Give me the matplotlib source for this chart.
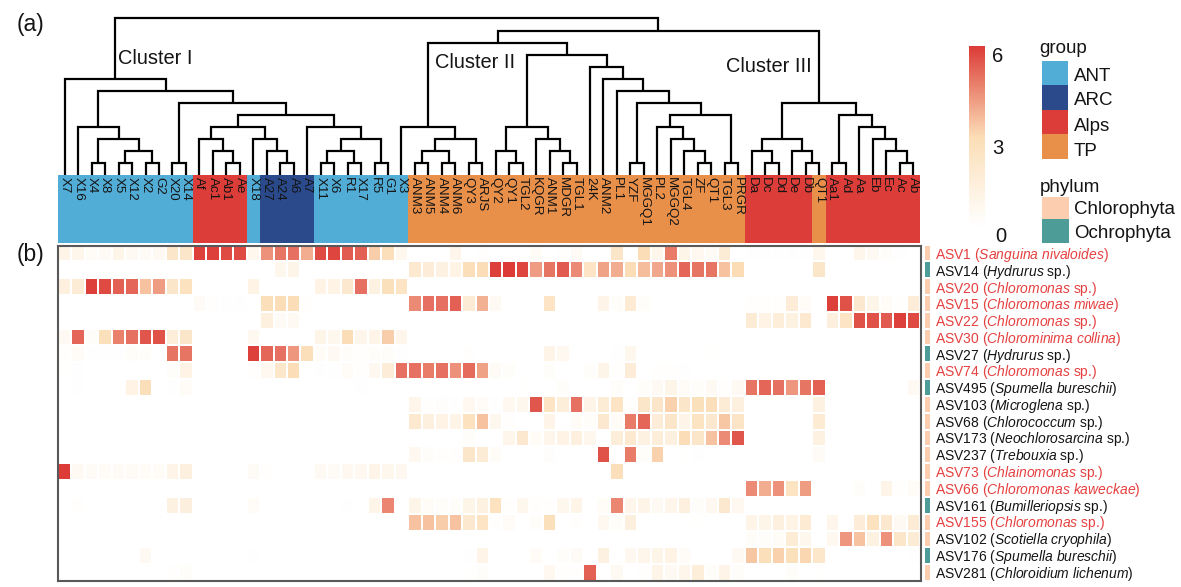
"""Heatmap of ASV abundance with sample dendrogram, group strip and phylum strip"""
import matplotlib
matplotlib.use('Agg')
import matplotlib.pyplot as plt
import numpy as np
from matplotlib.cm import ScalarMappable
from matplotlib.colors import LinearSegmentedColormap, ListedColormap, Normalize
from matplotlib.patches import Rectangle

plt.rcParams['font.family'] = ['Liberation Sans', 'DejaVu Sans']
plt.rcParams['mathtext.fontset'] = 'custom'
plt.rcParams['mathtext.rm'] = 'Liberation Sans'
plt.rcParams['mathtext.it'] = 'Liberation Sans:italic'

W, H = 1181, 587

samples = ['X7', 'X16', 'X4', 'X8', 'X5', 'X12', 'X2', 'G2', 'X20', 'X14', 'Af', 'Ac1', 'Ab1', 'Ae', 'X18', 'A27',
           'A24', 'A6', 'A7', 'X11', 'X6', 'R1', 'X17', 'R5', 'G1', 'X3', 'ANM3', 'ANM5', 'ANM4', 'ANM6', 'QY3', 'ARJS',
           'QY2', 'QY1', 'TGL2', 'KQGR', 'ANM1', 'MDGR', 'TGL1', '24K', 'ANM2', 'PL1', 'YZF', 'MGGQ1', 'PL2', 'MGGQ2',
           'TGL4', 'ZF', 'QT1', 'TGL3', 'PRGR', 'Da', 'Dc', 'Dd', 'De', 'Db', 'QT1', 'Aa1', 'Ad', 'Aa', 'Eb', 'Ec',
           'Ac', 'Ab']

group_names = ['ANT', 'ARC', 'Alps', 'TP']
group_colors = ['#52ADD6', '#2B4A8C', '#DC3D38', '#E88F4A']
group_runs = [('ANT', 10), ('Alps', 4), ('ANT', 1), ('ARC', 4), ('ANT', 7), ('TP', 25), ('Alps', 5), ('TP', 1),
              ('Alps', 7)]

phylum_names = ['Chlorophyta', 'Ochrophyta']
phylum_colors = ['#FDCDB0', '#4E9C98']

asv_ids = ['ASV1', 'ASV14', 'ASV20', 'ASV15', 'ASV22', 'ASV30', 'ASV27', 'ASV74', 'ASV495', 'ASV103', 'ASV68',
           'ASV173', 'ASV237', 'ASV73', 'ASV66', 'ASV161', 'ASV155', 'ASV102', 'ASV176', 'ASV281']
asv_genus = ['Sanguina nivaloides', 'Hydrurus', 'Chloromonas', 'Chloromonas miwae', 'Chloromonas', 'Chlorominima collina',
             'Hydrurus', 'Chloromonas', 'Spumella bureschii', 'Microglena', 'Chlorococcum', 'Neochlorosarcina',
             'Trebouxia', 'Chlainomonas', 'Chloromonas kaweckae', 'Bumilleriopsis', 'Chloromonas', 'Scotiella cryophila',
             'Spumella bureschii', 'Chloroidium lichenum']
asv_sp = [0, 1, 1, 0, 1, 0, 1, 1, 0, 1, 1, 1, 1, 1, 0, 1, 1, 0, 0, 0]
asv_red = [1, 0, 1, 1, 1, 1, 0, 1, 0, 0, 0, 0, 0, 1, 1, 0, 1, 0, 0, 0]
asv_phylum = [0, 1, 0, 0, 0, 0, 1, 0, 1, 0, 0, 0, 0, 0, 0, 1, 0, 0, 1, 0]

Z = [0] * 10
abundance = [
    [1, .8, .3, .4, .9, .5, .4, .5, 2.2, 2.2, 5.9, 5.9, 5.7, 5.7, .7, 4.4, 4.9, 5, 3.9, 5.7,
     5.8, 5.4, 5.3, 3.3, 2.8, .7, 0, 0, 0, .8, 0, .1, 0, 0, 0, .3, 0, .1, .4, 0,
     0, 2.2, 0, 2.9, .8, 4.8, .9, .6, .4, 1.7, 0, .05, .05, .05, .05, .05, .7, 0, 0, .8, .5, .2, .05, .02],
    Z + [0, 0, 0, 0, 0, 0, .7, .9, 0, 0, 0, 0, 0, 0, 0, 0, 1.9, 1.6, 1.2, 1.1,
         2.8, 2.9, 5.9, 6, 5.8, 4.2, 4.9, 5.4, 4.5, 2.4, 4.1, 3.9, 2.9, 3.6, 4, 4.4, 5.2, 4.9, 4.9, 3.5,
         3, 0, 0, 0, 0, 0, 2.2, 0, 0, 0, 0, 0, 0, 0],
    [1.3, 1.7, 5.9, 5.7, 5.3, 5.2, 3.5, 4.2, 2.2, 2.6, 0, 0, 0, 0, 1.1, 0, 0, 0, 0, 1.1,
     1.1, 2, 5, 1.2, 2.7, 2.4, 0, 0, 0, 0] + Z * 3 + [0, 0, 0, 0],
    Z + [.4, .1, .05, .05, 0, 2.8, 2.9, 2.9, .1, 0, 0, 0, 0, 0, 0, 0, 4.5, 5, 5, 5.3,
         1.7, 3.8, .5, 0, 0, 0, 2.4, 0, 0, 0, 1, .2, 1.8, .2, 0, 0, 0, 0, 0, 0,
         0, .1, .1, .1, 1.6, .3, 0, 5.9, 5.6, 2, .9, .3, .1, 1.6],
    Z + [0, 0, 0, 0, 0, 1.3, .4, .5, 0, 0] + Z * 3 +
    [0, 1.7, 1.1, 1.5, 1.2, 1.9, 0, 1.4, 2.4, 5.6, 5.6, 5.4, 5.9, 5.7],
    [.5, 5.2, .2, 2.7, 4.7, 5, 5.5, 5.6, 1.5, 2.2, 0, 0, 0, 0, .6, 0, 0, 0, 0, .9,
     .7, 2.9, .8, 1, 3.3, .8, 0, 0, 0, 0] + Z * 3 + [0, 0, 0, 0],
    [.1, .3, .05, .05, .05, .2, .2, 0, 4.9, 4.9, 0, 0, 0, 0, 5.9, 5.2, 5, 4.3, 2.8, .3,
     .5, .2, .1, .2, .2, .05, 0, 0, 0, 0, .1, 0, 0, 0, 0, 0, 1, .6, 0, 0,
     0, .05, .7, 0, 0, 0, 0, 0, .03, 0] + Z + [0, 0, 0, 0],
    [.03, .05, 0, 0, 0, 0, 0, 0, .2, 1.1, 0, 0, 0, 0, .1, .6, 2.1, 2.9, 0, .05,
     .05, .3, .1, .6, 1.6, 5, 5, 4.8, 5, 4.4, 5.1, 4.1, .4, .2, 0, 0, .2, 0, 0, .2,
     .9, .1, 1.6, 0, .1, .1, .05, 0, 0, 0] + Z + [0, 0, 0, 0],
    [0, .05, 0, 0, 0, 1.1, 2.8, 0, .05, .3] + Z + [0, 0, .05, 0, 0, 0, 0, 0, 0, 0,
     0, 0, 0, 0, .03, 0, 0, .2, 0, 0, 0, .2, 0, .2, .5, .9, .3, .2, .5, .1,
     .5, 4.9, 5.2, 5, 4.3, 4.9, 5.3, 0, 0, 0, 0, 0, 0, .5],
    Z * 2 + [0, 0, 0, 0, 0, 0, .8, .1, .15, .05, .6, .3, .05, .6, .7, 5.5, 2.4, 1.5, 5, 1,
             1.7, 2.4, .1, 2.2, 2.2, 3.2, 2.2, 2.7, 2.8, 1.7, 1.3, 0, 0, 0, 0, 0, 1.2, 0, 0, 0, 0, 0, 0, 0],
    Z * 2 + [0, 0, 0, 0, 0, 0, 1.9, 1.3, 1.1, 1, 2.6, 3.5, .7, .1, 0, 0, 1, 0, .3, .2,
             2, .3, 4.8, 5.2, 1.6, 2.2, 1, 2.5, 2, 3.4, 2.3, 0, 0, 0, 0, 0, 1.8, 0, 0, 0, 0, 0, 0, 0],
    Z * 3 + [.2, 0, 0, .8, 2, .3, .8, 1.1, 1.3, .7, 0, 1.5, 1.9, 1.2, 1.5, 1.3, 2.9, 2.2, 3.5, 4.5,
             5.5, 0, 0, 0, 0, 0, 1.2, 0, 0, 0, 0, 0, 0, 0],
    Z * 2 + [0, 0, 0, 0, 0, 0, .6, .2, .1, .1, 2.2, 1.7, .3, 0, 0, 0, .15, 0, 0, 0,
             5.6, 0, 4.8, .2, 3.2, 0, .03, .05, .02, .02, .01, 0, 0, 0, 0, 0, .4, 0, 0, 0, 0, 0, 0, 0],
    [6, .5, .4, .3, .4, .4, .3, .3, 1, 1.3, 0, 0, 0, 0, .4, .1, 0, 0, .02, .5,
     .4, .6, .6, 1, .7, .6, 0, 0, 0, 0] + Z + [0, 2.8, 0, 0, 0, 0, 0, 0, 0, 0] + Z + [0, 0, 0, 0],
    Z * 5 + [0, 4.5, 3.9, 4.4, 2.5, 4.2, 0, 0, 0, .2, 0, 1, .1, .3],
    [0, .1, 0, 0, 0, 0, 0, 0, 1.2, 1.4, 0, 0, 0, 0, .3, 0, 0, 0, 0, 0,
     0, .05, 0, .9, 4.6, 0, .9, .3, .2, .2, .9, 1.2, 2.6, .1, .7, .1, .1, .7, 1, 0,
     .3, 4.6, .8, 1, .5, .8, 1.3, .2, .6, 2, .6, 0, 0, 0, 0, 0, 0, 0, 0, 0, 0, 0, 0, 0],
    Z * 2 + [0, 0, 0, 0, 0, 0, 3.5, 3.5, 3.3, 3.5, 2, 2.4, .1, .3, 0, .2, 2.7, 0, .1, 0,
             .6, .2, 1.4, 0, 0, 0, 0, .03, 0, 0, 0, 1, .9, 1.3, 1.1, 1.8, 0, .8, 0, 1.6, 2.6, 2, .5, 1.7],
    Z * 5 + [0, .2, .2, .3, 1.7, .7, 0, .6, 4.3, 3.5, 1.2, 4.4, 2.2, 1.7],
    [0, 0, 0, 0, 0, 0, .5, 0, 0, 0, 0, 0, 0, 0, .05, 0, 0, 0, 0, 0] + Z +
    [.05, 1, 0, 0, 0, .3, 0, .2, .4, 0, 1.2, 0, .6, .8, .9, 1.1, .3, 0, 0, .02,
     .5, 3.4, 2.8, 3.2, 2.7, 3.1, 2.1, 0, 0, 0, 0, 0, 0, .05],
    [0, 0, 0, 0, 0, 0, 0, 0, .1, .2] + Z * 2 + [.03, .2, 0, 0, 0, 0, .6, .1, .1, 5.3,
     0, .5, 0, .1, 1, .5, .8, 1.5, .2, 1, .2, 0, 0, 0, .2, 0, .03, 0, 0, 0, 0, 0, 0, 0],
]

# dendrogram as (merge level, left, right)
p = lambda a, b: (1, a, b)
cluster1 = (8, 'X7', (7,
    (4, 'X16', (3, p('X4', 'X8'), (2, p('X5', 'X12'), p('X2', 'G2')))),
    (6, p('X20', 'X14'), (5,
        (4, (3, 'Af', (2, 'Ac1', p('Ab1', 'Ae'))), (3, 'X18', (2, 'A27', p('A24', 'A6')))),
        (4, 'A7', (3, (2, p('X11', 'X6'), p('R1', 'X17')), p('R5', 'G1')))))))
cluster2 = (11,
    (4, 'X3', (3, (2, p('ANM3', 'ANM5'), p('ANM4', 'ANM6')), p('QY3', 'ARJS'))),
    (10,
     (4, (2, 'QY2', p('QY1', 'TGL2')), (3, 'KQGR', (2, 'ANM1', p('MDGR', 'TGL1')))),
     (9, '24K', (8, 'ANM2', (7, 'PL1', (6, p('YZF', 'MGGQ1'),
         (5, (4, 'PL2', (3, 'MGGQ2', (2, 'TGL4', p('ZF', 'QT1')))), p('TGL3', 'PRGR'))))))))
cluster3 = (6,
    (3, (2, 'Da', p('Dc', 'Dd')), (2, 'De', p('Db', 'QT1'))),
    (5, p('Aa1', 'Ad'), (4, 'Aa', (3, 'Eb', (2, 'Ec', p('Ac', 'Ab'))))))
tree = (13.08, cluster1, (12, cluster2, cluster3))


def px_axes(x0, y0, x1, y1):
    return fig.add_axes([x0 / W, 1 - y1 / H, (x1 - x0) / W, (y1 - y0) / H])


fig = plt.figure(figsize=(W / 100, H / 100), dpi=100)
ink = '#141414'

# dendrogram
ax_tree = px_axes(58, 18, 920, 175)
ax_tree.set_xlim(0, len(samples))
ax_tree.set_ylim(0, 13.08)
ax_tree.axis('off')
leaf_counter = [0]


def draw_node(node):
    if isinstance(node, str):
        leaf_counter[0] += 1
        return leaf_counter[0] - 0.5, 0
    level, left, right = node
    xl, yl = draw_node(left)
    xr, yr = draw_node(right)
    ax_tree.plot([xl, xl, xr, xr], [yl, level, level, yr], color='black', lw=1.6,
                 solid_joinstyle='miter', solid_capstyle='butt', clip_on=False)
    return (xl + xr) / 2, level


draw_node(tree)

# group strip with sample names
ax_group = px_axes(58, 175, 920, 243)
group_index = [group_names.index(g) for g, n in group_runs for _ in range(n)]
ax_group.pcolormesh(np.array([group_index]), cmap=ListedColormap(group_colors), vmin=-0.5, vmax=3.5)
ax_group.set_ylim(1, 0)
ax_group.axis('off')
for i, name in enumerate(samples):
    ax_group.text(i + 0.5, 0.03, name, rotation=-90, ha='center', va='top', fontsize=9.6, color=ink)

# heatmap
heat_cmap = LinearSegmentedColormap.from_list('heat', ['#FFFFFF', '#FBDDB5', '#DC3B37'])
heat_norm = Normalize(0, 6)
ax_heat = px_axes(58, 246, 921, 581)
ax_heat.pcolormesh(np.array(abundance), cmap=heat_cmap, norm=heat_norm, edgecolors='white', linewidth=1.1)
ax_heat.set_xlim(0, 64.07)
ax_heat.set_ylim(20, 0.09)
ax_heat.set_xticks([])
ax_heat.set_yticks([])
for spine in ax_heat.spines.values():
    spine.set_color('#595959')
    spine.set_linewidth(1.5)

# phylum strip
ax_phylum = px_axes(925, 246, 930, 581)
ax_phylum.pcolormesh(np.array(asv_phylum).reshape(-1, 1), cmap=ListedColormap(phylum_colors), vmin=-0.5, vmax=1.5,
                     edgecolors='white', linewidth=1.1)
ax_phylum.set_xlim(0.3, 0.7)
ax_phylum.set_ylim(20, 0.09)
ax_phylum.axis('off')

# colour bar
ax_cbar = px_axes(969, 46, 985, 227)
cbar = fig.colorbar(ScalarMappable(norm=heat_norm, cmap=heat_cmap), cax=ax_cbar)
cbar.outline.set_visible(False)
cbar.set_ticks([])

# everything placed in picture pixels
ax_page = fig.add_axes([0, 0, 1, 1], zorder=5)
ax_page.set_xlim(0, W)
ax_page.set_ylim(H, 0)
ax_page.axis('off')

for i, asv in enumerate(asv_ids):
    tail = r'$\mathit{' + asv_genus[i].replace(' ', r'\ ') + '}$'
    tail += ' sp.)' if asv_sp[i] else ')'
    ax_page.text(935, 259 + 16.77 * i, f'{asv} ({tail}', fontsize=10, va='baseline', ha='left',
                 color='#E5403F' if asv_red[i] else ink)

for label, x, y in [('Cluster I', 118, 63.5), ('Cluster II', 435, 68), ('Cluster III', 726, 71.5)]:
    ax_page.text(x, y, label, fontsize=14.4, ha='left', va='baseline', color=ink)
ax_page.text(17, 25, '(a)', fontsize=16.5, ha='left', va='center', color=ink)
ax_page.text(17, 255, '(b)', fontsize=16.5, ha='left', va='center', color=ink)

for label, x, y in [('6', 998, 56), ('3', 998, 149), ('0', 1001, 236)]:
    ax_page.text(x, y, label, fontsize=14.5, ha='center', va='center', color=ink)

ax_page.text(1039, 53, 'group', fontsize=13.5, ha='left', va='baseline', color=ink)
group_tops = [61, 85, 110, 134, 159]
group_baselines = [81, 105, 131, 156]
for i, name in enumerate(group_names):
    ax_page.add_patch(Rectangle((1042, group_tops[i]), 26, group_tops[i + 1] - group_tops[i],
                                facecolor=group_colors[i], edgecolor='none'))
    ax_page.text(1074, group_baselines[i], name, fontsize=13.5, ha='left', va='baseline', color=ink)

ax_page.text(1040, 191.5, 'phylum', fontsize=13.5, ha='left', va='baseline', color=ink)
phylum_tops = [197, 219, 243]
phylum_baselines = [214.5, 238.5]
for i, name in enumerate(phylum_names):
    ax_page.add_patch(Rectangle((1042, phylum_tops[i]), 27, phylum_tops[i + 1] - phylum_tops[i],
                                facecolor=phylum_colors[i], edgecolor='none'))
    ax_page.text(1074, phylum_baselines[i], name, fontsize=13.5, ha='left', va='baseline', color=ink)

fig.savefig('out.png', dpi=100)
